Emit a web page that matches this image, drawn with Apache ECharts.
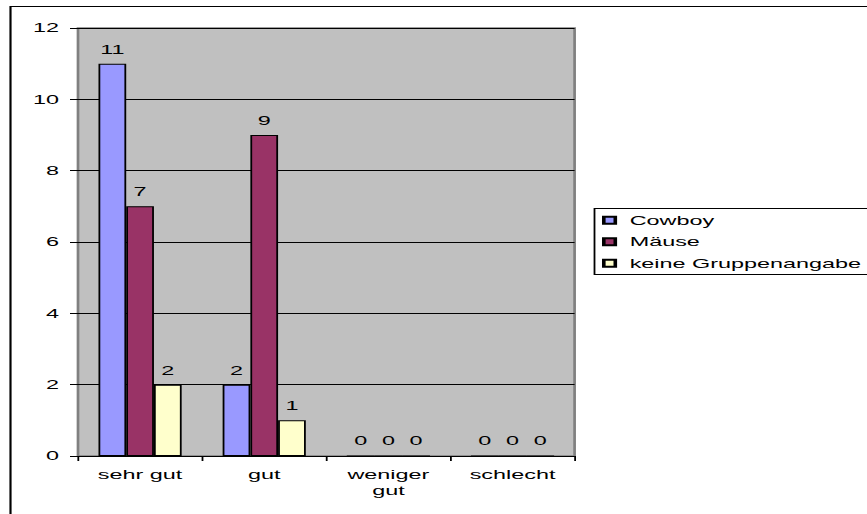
<!DOCTYPE html>
<html>
<head>
<meta charset="utf-8">
<script src="https://cdn.jsdelivr.net/npm/echarts@6/dist/echarts.min.js"></script>
<style>
html,body{margin:0;padding:0;background:#fff;overflow:hidden;width:867px;height:514px;}
#chart{position:absolute;left:0;top:0;height:514px;transform-origin:0 0;}
</style>
</head>
<body>
<div id="chart"></div>
<script>
const categories = ['sehr gut', 'gut', 'weniger\ngut', 'schlecht'];
const seriesNames = ['Cowboy', 'Mäuse', 'keine Gruppenangabe'];
const cowboy = [11, 2, 0, 0];
const maeuse = [7, 9, 0, 0];
const keine = [2, 1, 0, 0];
const yTicks = [0, 2, 4, 6, 8, 10, 12];

const colors = ['#9999FF', '#993366', '#FFFFCC'];
const font = 'Liberation Sans, Arial, sans-serif';

// The reference picture is horizontally stretched; draw narrower and stretch.
const S = 1.8;
const W = 867 / S;
const dom = document.getElementById('chart');
dom.style.width = W + 'px';
dom.style.transform = 'scaleX(' + S + ')';
const h = v => v / S;

const chart = echarts.init(dom, null, {renderer: 'svg'});
const dataSets = [cowboy, maeuse, keine];

chart.setOption({
  animation: false,
  backgroundColor: '#ffffff',
  graphic: [
    {type: 'rect', z: 0, shape: {x: h(10.5), y: 6.5, width: 900, height: 600},
     style: {fill: 'none', stroke: '#000', lineWidth: 1.2}},
    {type: 'rect', z: 0, shape: {x: h(594.5), y: 208.5, width: 300, height: 66},
     style: {fill: '#fff', stroke: '#000', lineWidth: 1}}
  ],
  grid: {
    left: h(78), top: 28, right: h(293), bottom: 58,
    show: true, backgroundColor: '#C0C0C0', borderColor: '#808080', borderWidth: 1.5
  },
  legend: {
    orient: 'vertical', left: h(602), top: 213, padding: 0,
    itemWidth: h(11.5), itemHeight: 7, itemGap: 7,
    icon: 'rect', z: 5,
    data: seriesNames,
    textStyle: {fontFamily: font, fontSize: 13, color: '#000', lineHeight: 14.5, padding: [0, 0, 0, 3]}
  },
  xAxis: {
    type: 'category', data: categories,
    axisLine: {show: true, lineStyle: {color: '#000', width: 1}},
    axisTick: {show: true, length: 5, lineStyle: {color: '#000'}},
    axisLabel: {fontFamily: font, fontSize: 13, color: '#000', margin: 11, lineHeight: 16}
  },
  yAxis: {
    type: 'value', min: yTicks[0], max: yTicks[yTicks.length - 1], interval: 2,
    axisLine: {show: false},
    axisTick: {show: true, length: h(8), lineStyle: {color: '#000'}},
    axisLabel: {fontFamily: font, fontSize: 13, color: '#000', margin: h(19)},
    splitLine: {show: true, lineStyle: {color: '#000', width: 1}}
  },
  series: seriesNames.map((name, i) => ({
    name: name, type: 'bar', data: dataSets[i],
    barGap: '0%', barCategoryGap: '33%',
    itemStyle: {color: colors[i], borderColor: '#000', borderWidth: 1},
    label: {show: true, position: 'top', distance: 8, fontFamily: font, fontSize: 13, color: '#000'}
  }))
});
</script>
</body>
</html>
